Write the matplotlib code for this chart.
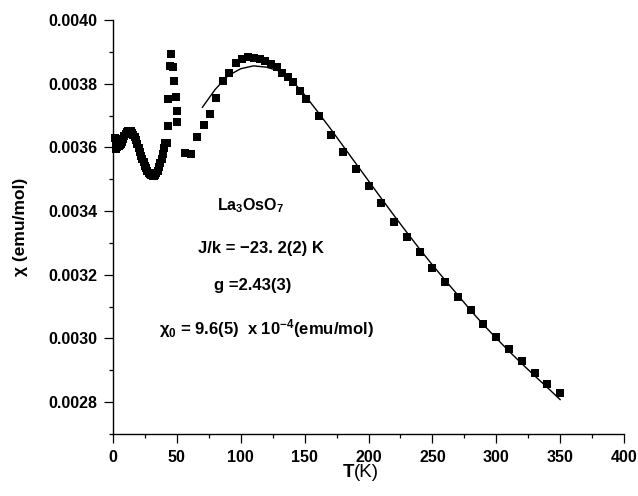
import matplotlib
matplotlib.use("Agg")
import matplotlib.pyplot as plt
from matplotlib.ticker import MultipleLocator, FormatStrFormatter

plt.rcParams['font.family'] = ['Liberation Sans', 'DejaVu Sans']
plt.rcParams['mathtext.fontset'] = 'custom'
plt.rcParams['mathtext.rm'] = 'Liberation Sans:bold'
plt.rcParams['mathtext.it'] = 'Liberation Sans:bold'
plt.rcParams['mathtext.bf'] = 'Liberation Sans:bold'

# measured susceptibility, low-T region (dense sweep)
t_low = [1.8, 2.0, 2.3, 2.6, 3.0, 3.5, 4.0, 4.5, 5.0, 5.5, 6.0, 7.0, 8.0, 9.0,
         10, 11, 12, 13, 14, 15, 16, 17, 18, 19, 20, 21, 22, 23, 24, 25, 26,
         27, 28, 29, 30, 31, 32, 33, 34, 35, 36, 37, 38, 39, 40, 41]
chi_low = [0.003630, 0.003600, 0.003625, 0.003596, 0.003618, 0.003600, 0.003624,
           0.003604, 0.003615, 0.003606, 0.003612, 0.003618, 0.003626, 0.003636,
           0.003643, 0.003648, 0.003650, 0.003651, 0.003650, 0.003646, 0.003640,
           0.003632, 0.003622, 0.003610, 0.003598, 0.003586, 0.003574, 0.003563,
           0.003553, 0.003543, 0.003535, 0.003527, 0.003521, 0.003516, 0.003513,
           0.003511, 0.003511, 0.003513, 0.003518, 0.003526, 0.003537, 0.003550,
           0.003564, 0.003580, 0.003598, 0.003614]

# sharp feature around 45 K and the broad maximum
t_mid = [42.0, 42.8, 43.3, 44.6, 45.4, 46.7, 47.7, 49.3, 49.9, 50.3,
         56, 61, 66, 71, 76, 81, 86, 91, 96, 101, 106, 110, 115, 119, 124,
         128, 132, 137, 141, 146, 151, 161, 171]
chi_mid = [0.003613, 0.003668, 0.003752, 0.003856, 0.003893, 0.003851, 0.003807,
           0.003757, 0.003715, 0.003679,
           0.003581, 0.003579, 0.003632, 0.003670, 0.003706, 0.003755, 0.003808,
           0.003834, 0.003866, 0.003878, 0.003883, 0.003882, 0.003877, 0.003870,
           0.003862, 0.003851, 0.003833, 0.003822, 0.003804, 0.003776, 0.003751,
           0.003699, 0.003640]

# high-T points, 10 K steps
t_high = [180, 190, 200, 210, 220, 230, 240, 250, 260, 270, 280, 290, 300,
          310, 320, 330, 340, 350]
chi_high = [0.003586, 0.003533, 0.003480, 0.003425, 0.003366, 0.003320, 0.003273,
            0.003222, 0.003176, 0.003130, 0.003089, 0.003044, 0.003005, 0.002966,
            0.002928, 0.002893, 0.002857, 0.002828]

# fitted curve
t_fit = [70, 80, 90, 100, 110, 120, 130, 140, 150, 160, 170, 180, 190, 200,
         210, 220, 230, 240, 250, 260, 270, 280, 290, 300, 310, 320, 330, 340, 350]
chi_fit = [0.003726, 0.003782, 0.003825, 0.003847, 0.003856, 0.003852, 0.003840,
           0.003810, 0.003765, 0.003713, 0.003660, 0.003605, 0.003550, 0.003495,
           0.003440, 0.003386, 0.003333, 0.003281, 0.003231, 0.003183, 0.003136,
           0.003088, 0.003043, 0.003001, 0.002960, 0.002921, 0.002883, 0.002846,
           0.002808]

t_all = t_low + t_mid + t_high
chi_all = chi_low + chi_mid + chi_high

fig = plt.figure(figsize=(6.38, 4.96), dpi=100)
ax = fig.add_axes([113 / 638, 1 - 434 / 496, 511 / 638, 414 / 496])

ax.plot(t_all, chi_all, 's', color='black', ms=6.3, mew=0, clip_on=False)
ax.plot(t_fit, chi_fit, '-', color='black', lw=1.0)

ax.set_xlim(0, 400)
ax.set_ylim(0.0027, 0.0040)
ax.xaxis.set_major_locator(MultipleLocator(50))
ax.xaxis.set_minor_locator(MultipleLocator(25))
ax.yaxis.set_major_locator(MultipleLocator(0.0002))
ax.yaxis.set_minor_locator(MultipleLocator(0.0001))
ax.yaxis.set_major_formatter(FormatStrFormatter('%.4f'))

for side in ['top', 'right']:
    ax.spines[side].set_visible(False)
for side in ['left', 'bottom']:
    ax.spines[side].set_linewidth(1.0)

ax.tick_params(which='major', direction='out', length=6.5, width=0.9)
ax.tick_params(which='minor', direction='out', length=3.2, width=0.9)
ax.tick_params(axis='x', pad=5)
ax.tick_params(axis='y', pad=5)
for lab in ax.get_xticklabels() + ax.get_yticklabels():
    lab.set_fontsize(11.5)
    lab.set_fontweight('bold')

ax.set_ylabel(u'\u03c7 (emu/mol)', fontsize=12.5, fontweight='bold', labelpad=14)
ax.text(0.4716, -0.094, 'T', transform=ax.transAxes, ha='right', va='center',
        fontsize=13.5, fontweight='bold')
ax.text(0.4716, -0.094, '(K)', transform=ax.transAxes, ha='left', va='center',
        fontsize=13.5)

ax.text(108, 0.003417, r'La$_3$OsO$_7$', ha='center', va='center',
        fontsize=11.5, fontweight='bold')
ax.text(116, 0.003283, u'J/k = \u221223. 2(2) K', ha='center', va='center',
        fontsize=12, fontweight='bold')
ax.text(109, 0.003167, 'g =2.43(3)', ha='center', va='center',
        fontsize=12, fontweight='bold')
ax.text(120, 0.003032, r'$\chi_0$ = 9.6(5)  x 10$^{-4}$(emu/mol)', ha='center',
        va='center', fontsize=12, fontweight='bold')

fig.savefig('out.png', dpi=100)
